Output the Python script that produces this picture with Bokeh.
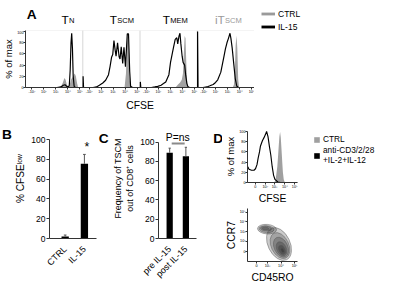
import math
from bokeh.plotting import figure
from bokeh.models import Range1d, FixedTicker, Label, Legend, LegendItem, BoxAnnotation
from bokeh.layouts import column, row
from bokeh.embed import file_html
from bokeh.resources import INLINE

S = 0.945
FONT = "Liberation Sans"


def px(v):
    return int(round(v * S))


def fs(v):
    return f"{v * S:.2f}px"


# ---------------- data ----------------
a_titles = ["T", "T", "T", "iT"]
a_subs = ["N", "SCM", "MEM", "SCM"]
a_title_colors = ["#000000", "#000000", "#000000", "#9a9a9a"]
a_y_ticks = [0, 20, 40, 60, 80, 100]
a_x_tick_pos = [11, 32, 53, 74, 95]
a_x_tick_labels = ["-10²", "10²", "10³", "10⁴", "10⁵"]

# T_N
tn_ctrl_x = [0, 58, 62, 65, 68, 70, 72, 74, 76, 78, 80, 82, 84, 86, 88, 90, 92, 100]
tn_ctrl_y = [0, 0, 2, 8, 17, 14, 6, 2, 3, 8, 15, 18, 22, 25, 20, 8, 0, 0]
tn_il15_x = [0, 55, 62, 66, 69, 72, 75, 76.5, 78, 79.5, 80.7, 82, 83.3, 85, 87, 100]
tn_il15_y = [0, 0, 1, 4, 5, 2, 1, 4, 30, 80, 97, 70, 20, 2, 0, 0]
# T_SCM
tscm_ctrl_x = [73, 75.5, 77, 78.5, 80, 81.5, 83.5]
tscm_ctrl_y = [0, 25, 75, 92, 80, 20, 0]
tscm_il15_x = [0.6, 0.6, 1.4, 18, 24, 29, 35, 40, 45, 47.6, 50.3, 52.4, 54.5, 56.6, 58.2,
               60.8, 63.5, 65.1, 67.2, 69.8, 72, 74.6, 77.8, 79.9, 82, 83.6, 87, 100]
tscm_il15_y = [0, 20, 0, 0, 1, 4, 8, 13, 23, 37, 54, 59, 84, 67, 56,
               80, 55, 51, 73, 43, 72, 37, 96, 96, 29, 2, 0, 0]
# T_MEM
tmem_ctrl_x = [62, 66, 70, 73, 75, 76.5, 78, 79.5, 81, 82.5, 84.5]
tmem_ctrl_y = [0, 5, 9, 14, 25, 60, 92, 88, 40, 8, 0]
tmem_il15_x = [0.6, 0.6, 1.4, 20, 25.8, 31, 36.8, 41, 45, 50.5, 53.3, 56, 58.8, 61.5, 64.3,
               65.9, 68.1, 69.8, 71.4, 73.6, 75.3, 78, 79.7, 81.9, 83.5, 86.3, 100]
tmem_il15_y = [0, 10, 0, 0, 1, 2, 4, 7, 10, 23, 45, 59, 73, 86, 89,
               78, 92, 97, 78, 56, 45, 40, 23, 7, 2, 0, 0]
# iT_SCM
itscm_ctrl_x = [62, 64, 65.5, 67, 68.5, 70, 71.5, 73]
itscm_ctrl_y = [0, 5, 25, 75, 93, 70, 15, 0]
itscm_il15_x = [0.6, 0.6, 1.4, 10, 17.1, 22, 27.8, 32, 35.8, 41.2, 46.5, 49.2, 51.9, 54.5,
                57.2, 58.8, 61, 63.6, 66.3, 69, 71.7, 100]
itscm_il15_y = [0, 100, 0, 0, 1, 3, 5.5, 9, 13.7, 27.5, 55, 69, 80, 88,
                97, 88, 71, 44, 16.5, 2.7, 0, 0]

# panel B
b_categories = ["CTRL", "IL-15"]
b_means = [2, 75.5]
b_errs = [1.5, 9.5]
# panel C
c_categories = ["pre IL-15", "post IL-15"]
c_means = [89, 85.4]
c_errs = [4.8, 9.3]
bc_y_ticks = [0, 20, 40, 60, 80, 100]

# panel D histogram
d_x_tick_pos = [15.7, 35.4, 54, 74.7, 94.4]
d_x_tick_labels = ["0", "10²", "10³", "10⁴", "10⁵"]
d_ctrl_x = [53, 56, 59.6, 61, 62.4, 63.8, 65.2, 66.6, 68, 69.5, 70.8, 72.5, 74.7]
d_ctrl_y = [0, 4, 31, 50, 71, 90, 99, 88, 65, 40, 20, 6, 0]
d_stim_x = [0.5, 3, 8, 13, 16, 19, 21.3, 24, 25.8, 29.8, 33, 35.4, 38.2, 41, 43.8, 46.6,
            49.4, 52.2, 55, 60.7, 66, 100]
d_stim_y = [31, 26, 24, 24, 27, 35, 48, 60, 71, 82, 88, 93, 100, 90, 71, 54,
            31, 14, 6, 1, 0, 0]

# panel D dot plot (density contours)
d2_x_tick_pos = [18, 40, 67, 94]
d2_x_tick_labels = ["0", "10³", "10⁴", "10⁵"]
d2_y_tick_pos = [18, 38, 56, 75, 93]
d2_y_tick_labels = ["0", "10²", "10³", "10⁴", "10⁵"]
c1_x = [39, 38, 37, 36]
c1_y = [61, 61, 62, 62]
c1_w = [38, 30, 22, 14]
c1_h = [18, 13, 9, 5]
c2_x = [63, 65, 67, 68, 69, 70]
c2_y = [33, 30, 27, 24, 22, 21]
c2_w = [44, 35, 27, 19, 12, 6]
c2_h = [66, 52, 40, 28, 18, 9]

GRAY = "#a3a3a3"
AX = "#333333"

# Arial/Liberation widths (em) for layout of composite titles
W = {"T": .611, "i": .222, "N": .722, "S": .667, "C": .722, "M": .833, "E": .667}


def twidth(s, size):
    return sum(W[c] for c in s) * size


def conv(fl, fr, ft, fb, x0, x1, y0, y1):
    return (lambda X: x0 + (X - fl) * (x1 - x0) / (fr - fl),
            lambda Y: y0 + (fb - Y) * (y1 - y0) / (fb - ft))


def put(p, x, y, text, size, color="black", align="left", baseline="alphabetic",
        style="normal"):
    p.add_layout(Label(x=x, y=y, text=text, text_font=FONT, text_font_size=fs(size),
                       text_color=color, text_align=align, text_baseline=baseline,
                       text_font_style=style))


def style_axis(ax, size):
    ax.major_label_text_font = FONT
    ax.major_label_text_font_size = fs(size)
    ax.major_label_text_color = "black"
    ax.axis_line_color = AX
    ax.major_tick_line_color = AX
    ax.minor_tick_line_color = None


def axis_title(ax, text, size, standoff=1):
    ax.axis_label = text
    ax.axis_label_text_font = FONT
    ax.axis_label_text_font_size = fs(size)
    ax.axis_label_text_font_style = "normal"
    ax.axis_label_text_color = "black"
    ax.axis_label_standoff = standoff


def base_fig(w, h, xr, yr, l, r, t, b):
    p = figure(width=px(w), height=px(h), x_range=Range1d(*xr), y_range=Range1d(*yr),
               min_border_left=px(l), min_border_right=px(r), min_border_top=px(t),
               min_border_bottom=px(b), output_backend="svg", toolbar_location=None)
    p.xgrid.visible = False
    p.ygrid.visible = False
    p.background_fill_color = "white"
    p.border_fill_color = "white"
    p.outline_line_color = None
    return p


def strip(ox, oy, w, h):
    # text/legend-only area; its coordinates are the page's reference pixels
    p = figure(width=px(w), height=px(h), x_range=Range1d(ox, ox + w),
               y_range=Range1d(oy + h, oy), min_border_left=0, min_border_right=0,
               min_border_top=0, min_border_bottom=0, x_axis_location=None,
               y_axis_location=None, output_backend="svg", toolbar_location=None)
    p.xgrid.visible = False
    p.ygrid.visible = False
    p.outline_line_color = None
    p.background_fill_color = "white"
    p.border_fill_color = "white"
    return p


def small_axes(p, xt, xl, yt, yl, xb=None, yb=None):
    p.xaxis.ticker = FixedTicker(ticks=xt)
    if xl is not None:
        p.xaxis.major_label_overrides = {a: b for a, b in zip(xt, xl)}
    p.yaxis.ticker = FixedTicker(ticks=yt)
    if yl is not None:
        p.yaxis.major_label_overrides = {a: b for a, b in zip(yt, yl)}
    for ax in (p.xaxis, p.yaxis):
        style_axis(ax, 4)
        ax.major_tick_out = px(1.6)
        ax.major_tick_in = 0
        ax.major_label_standoff = 0
    if xb is not None:
        p.xaxis.bounds = xb
    if yb is not None:
        p.yaxis.bounds = yb


def legend_in(p, items, margin, glyph_w, glyph_h, row_h, spacing, font):
    return Legend(items=items, location="top_left", margin=px(margin),
                  glyph_width=px(glyph_w), glyph_height=px(glyph_h),
                  label_height=px(row_h), label_width=px(10), label_standoff=px(3),
                  spacing=px(spacing), padding=0, border_line_color=None,
                  background_fill_alpha=0, label_text_font=FONT,
                  label_text_font_size=fs(font), label_text_color="black")


# ---------------- panel A ----------------
sTitle = strip(0, 0, 268.5, 31.5)
put(sTitle, 1.5, 15, "A", 14.5, style="bold")
for i in range(4):
    center = 18.5 + 62.5 * (i + 0.5)
    mw = twidth(a_titles[i], 12.5)
    sw = twidth(a_subs[i], 8)
    split = center - (mw + sw) / 2 + mw
    put(sTitle, split, 20.7, a_titles[i], 12.5, color=a_title_colors[i], align="right")
    put(sTitle, split + 0.4, 20.9, a_subs[i], 8, color=a_title_colors[i], align="left")

pA = base_fig(268.5, 93.5, (0, 400), (0, 102), 18.5, 0, 0, 32.5)
ctrl_sets = [(tn_ctrl_x, tn_ctrl_y), (tscm_ctrl_x, tscm_ctrl_y),
             (tmem_ctrl_x, tmem_ctrl_y), (itscm_ctrl_x, itscm_ctrl_y)]
il15_sets = [(tn_il15_x, tn_il15_y), (tscm_il15_x, tscm_il15_y),
             (tmem_il15_x, tmem_il15_y), (itscm_il15_x, itscm_il15_y)]
for i, (xs, ys) in enumerate(ctrl_sets):
    pA.varea(x=[v + 100 * i for v in xs], y1=0, y2=ys, fill_color=GRAY)
for i in range(4):
    pA.add_layout(BoxAnnotation(left=100 * i, right=100 * (i + 1), bottom=0, top=102,
                                fill_color=None, fill_alpha=0, line_color="#b5b5b5",
                                line_width=1, level="underlay"))
for i, (xs, ys) in enumerate(il15_sets):
    pA.line(x=[v + 100 * i for v in xs], y=ys, line_color="black", line_width=1.25 * S)
a_ticks = [100 * i + pos for i in range(4) for pos in a_x_tick_pos]
a_labs = [lab for i in range(4) for lab in a_x_tick_labels]
small_axes(pA, a_ticks, a_labs, a_y_ticks, None)
axis_title(pA.yaxis, "% of max", 10, standoff=0)
axis_title(pA.xaxis, "CFSE", 11, standoff=px(3))

sLegA = strip(268.5, 0, 131.5, 125)
rc = sLegA.line(x=[-50, -40], y=[-50, -50], line_color="#9a9a9a", line_width=3 * S)
ri = sLegA.line(x=[-50, -40], y=[-50, -50], line_color="black", line_width=3 * S)
sLegA.add_layout(legend_in(sLegA, [LegendItem(label="CTRL", renderers=[rc]),
                                   LegendItem(label="IL-15", renderers=[ri])],
                           7, 15, 14, 14, 0, 9))

top = row(column(sTitle, pA), sLegA)

# ---------------- panel B ----------------
sB = strip(0, 125, 13, 177)
put(sB, 1.5, 148, "B", 14.5, style="bold")

pB = base_fig(104, 177, (0.185, 3.357), (0, 121.3), 32, 0, 0, 44.5)
bx, by = conv(45, 101, 125, 257.5, 0.185, 2.652, 0, 121.3)
b_pos = [1, 2]
pB.vbar(x=b_pos, top=b_means, width=0.38, fill_color="black", line_color=None)
b_up = [m + e for m, e in zip(b_means, b_errs)]
pB.segment(x0=b_pos, y0=b_means, x1=b_pos, y1=b_up, line_color="#555555", line_width=1)
pB.segment(x0=[x - 0.07 for x in b_pos], y0=b_up, x1=[x + 0.07 for x in b_pos], y1=b_up,
           line_color="#555555", line_width=1)
pB.yaxis.ticker = FixedTicker(ticks=bc_y_ticks)
pB.yaxis.bounds = (0, 100)
style_axis(pB.yaxis, 9)
pB.yaxis.major_tick_out = px(3)
pB.yaxis.major_tick_in = 0
pB.yaxis.major_label_standoff = px(1)
axis_title(pB.yaxis, "% CFSEˡᵒʷ", 10.7, standoff=px(2))
pB.xaxis.ticker = FixedTicker(ticks=b_pos)
pB.xaxis.major_label_overrides = {p_: c for p_, c in zip(b_pos, b_categories)}
pB.xaxis.bounds = (0.185, 2.652)
style_axis(pB.xaxis, 9.5)
pB.xaxis.major_tick_line_color = None
pB.xaxis.major_label_orientation = math.pi / 4
pB.xaxis.major_label_standoff = px(3)
put(pB, 2, by(157), "*", 13)
put(pB, bx(103), by(147), "C", 14.5, style="bold")

# ---------------- panel C ----------------
pC = base_fig(119, 177, (0.31, 4.26), (0, 124.6), 40, 0, 0, 44)
cx, cy = conv(157, 203.6, 125, 258, 0.31, 2.64, 0, 124.6)
c_pos = [1, 2]
pC.vbar(x=c_pos, top=c_means, width=0.385, fill_color="black", line_color=None)
c_up = [m + e for m, e in zip(c_means, c_errs)]
pC.segment(x0=c_pos, y0=c_means, x1=c_pos, y1=c_up, line_color="#555555", line_width=1)
pC.segment(x0=[x - 0.07 for x in c_pos], y0=c_up, x1=[x + 0.07 for x in c_pos], y1=c_up,
           line_color="#555555", line_width=1)
pC.segment(x0=[cx(173.3)], y0=[cy(152.7)], x1=[cx(189.3)], y1=[cy(152.7)],
           line_color="#8a8a8a", line_width=2 * S)
pC.yaxis.ticker = FixedTicker(ticks=bc_y_ticks)
pC.yaxis.bounds = (0, 100)
style_axis(pC.yaxis, 9)
pC.yaxis.major_tick_out = px(3)
pC.yaxis.major_tick_in = 0
pC.yaxis.major_label_standoff = px(1)
axis_title(pC.yaxis, "Frequency of TSCM\nout of CD8⁺ cells", 9.5, standoff=px(2))
pC.xaxis.ticker = FixedTicker(ticks=c_pos)
pC.xaxis.major_label_overrides = {p_: c for p_, c in zip(c_pos, c_categories)}
pC.xaxis.bounds = (0.31, 2.64)
style_axis(pC.xaxis, 9.5)
pC.xaxis.major_tick_line_color = None
pC.xaxis.major_label_orientation = math.pi / 4
pC.xaxis.major_label_standoff = px(3)
put(pC, 1.5, cy(146.5), "P=ns", 11, align="center")
put(pC, cx(224.5), cy(147), "D", 14.5, style="bold")

# ---------------- panel D ----------------
pD1 = base_fig(92, 93, (0, 100), (0, 102), 20, 13, 13, 19.5)
rdc = pD1.varea(x=d_ctrl_x, y1=0, y2=d_ctrl_y, fill_color="#a0a0a0")
pD1.line(x=d_stim_x, y=d_stim_y, line_color="black", line_width=1.2 * S)
small_axes(pD1, d_x_tick_pos, d_x_tick_labels, a_y_ticks, None, yb=(0, 100))
axis_title(pD1.yaxis, "% of max", 10, standoff=0)
axis_title(pD1.xaxis, "CFSE", 11, standoff=px(1))

sLegD = strip(328, 125, 72, 93)
q1 = sLegD.varea(x=[-50, -40], y1=[-50, -50], y2=[-49, -49], fill_color="#a0a0a0")
q2 = sLegD.quad(left=[-50], right=[-40], top=[-40], bottom=[-50], fill_color="black",
                line_color=None)
sLegD.add_layout(legend_in(sLegD, [LegendItem(label="CTRL", renderers=[q1]),
                                   LegendItem(label="anti-CD3/2/28\n+IL-2+IL-12",
                                              renderers=[q2])],
                           4, 7.5, 7.5, 11, 1, 8.8))

pD2 = base_fig(164, 84, (0, 100), (0, 100), 20, 85, 2, 21)
pD2.ellipse(x=c1_x, y=c1_y, width=c1_w, height=c1_h, angle=-0.08, fill_color="black",
            fill_alpha=0.2, line_color="#555555", line_width=0.6, line_alpha=0.8)
pD2.ellipse(x=c2_x, y=c2_y, width=c2_w, height=c2_h, angle=0.45, fill_color="black",
            fill_alpha=0.2, line_color="#555555", line_width=0.6, line_alpha=0.8)
small_axes(pD2, d2_x_tick_pos, d2_x_tick_labels, d2_y_tick_pos, d2_y_tick_labels,
           xb=(0, 100), yb=(0, 100))
axis_title(pD2.yaxis, "CCR7", 11, standoff=0)
axis_title(pD2.xaxis, "CD45RO", 11, standoff=px(1))

bottom = row(sB, pB, pC, column(row(pD1, sLegD), pD2))
layout = column(top, bottom)
open("out.html", "w").write(file_html(layout, INLINE))
